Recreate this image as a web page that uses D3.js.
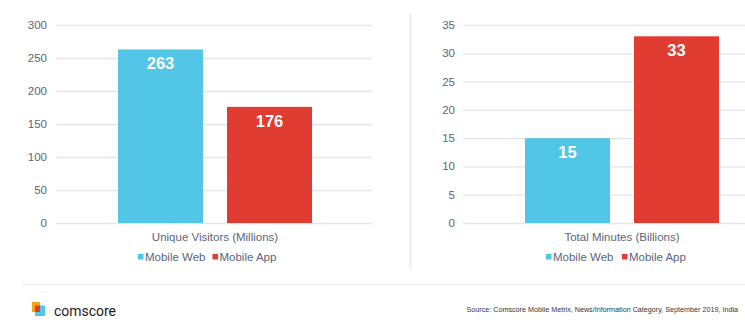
<!DOCTYPE html>
<html><head><meta charset="utf-8">
<script src="https://cdn.jsdelivr.net/npm/d3@7"></script>
<style>body{margin:0;background:#fff;}svg{display:block;font-family:"Liberation Sans",Arial,sans-serif;}</style>
</head><body>
<svg id="c" width="745" height="327"></svg>
<script>
const series = ["Mobile Web", "Mobile App"];
const colors = ["#52C6E6", "#E03C31"];
const visitors = [263, 176];
const minutes = [15, 33];
const visitorTicks = [0, 50, 100, 150, 200, 250, 300];
const minuteTicks = [0, 5, 10, 15, 20, 25, 30, 35];
const categories = ["Unique Visitors (Millions)", "Total Minutes (Billions)"];
const sourceText = "Source: Comscore Mobile Metrix, News/Information Category, September 2019, India";

const svg = d3.select("#c");
const y0 = 223, y1 = 25;

function panel(opts) {
  const g = svg.append("g");
  const y = d3.scaleLinear().domain([0, d3.max(opts.ticks)]).range([y0, y1]);
  g.selectAll("line.grid").data(opts.ticks).join("line")
    .attr("x1", opts.gx0).attr("x2", opts.gx1)
    .attr("y1", d => y(d) + 0.5).attr("y2", d => y(d) + 0.5)
    .attr("stroke", "#e4e4ec").attr("stroke-width", 1.3);
  g.selectAll("text.tick").data(opts.ticks).join("text")
    .attr("x", opts.tickX).attr("y", d => y(d) + 4)
    .attr("text-anchor", "end").attr("font-size", 11.5).attr("fill", "#5b6479")
    .text(d => d);
  const x = d3.scaleBand().domain(series)
    .range([opts.center - 97, opts.center + 97]).paddingInner(24 / 109).paddingOuter(0);
  g.selectAll("rect.bar").data(opts.values).join("rect")
    .attr("x", (d, i) => x(series[i])).attr("width", x.bandwidth())
    .attr("y", d => y(d)).attr("height", d => y(0) - y(d))
    .attr("fill", (d, i) => colors[i]);
  g.selectAll("text.val").data(opts.values).join("text")
    .attr("x", (d, i) => x(series[i]) + x.bandwidth() / 2)
    .attr("y", d => y(d) + 20)
    .attr("text-anchor", "middle").attr("font-size", 16.5).attr("font-weight", "bold")
    .attr("fill", "#fff").text(d => d);
  g.append("text").attr("x", opts.center).attr("y", 240.5)
    .attr("text-anchor", "middle").attr("font-size", 11.5).attr("fill", "#5b6479")
    .text(opts.category);
  const lg = g.append("g");
  series.forEach((s, i) => {
    const lx = opts.legendX[i];
    lg.append("rect").attr("x", lx).attr("y", 254).attr("width", 5.5).attr("height", 5.5).attr("fill", colors[i]);
    lg.append("text").attr("x", lx + 7).attr("y", 261).attr("font-size", 11.5).attr("fill", "#5b6479").text(s);
  });
}

panel({ticks: visitorTicks, values: visitors, gx0: 56, gx1: 372, tickX: 47, center: 215,
  category: categories[0], legendX: [138, 212.5]});
panel({ticks: minuteTicks, values: minutes, gx0: 463, gx1: 745, tickX: 455, center: 622,
  category: categories[1], legendX: [546, 622]});

svg.append("line").attr("x1", 410.5).attr("x2", 410.5).attr("y1", 14).attr("y2", 270)
  .attr("stroke", "#ececec").attr("stroke-width", 2);
svg.append("line").attr("x1", 22).attr("x2", 745).attr("y1", 284.5).attr("y2", 284.5)
  .attr("stroke", "#ececec").attr("stroke-width", 1.2);
const logo = svg.append("g");
logo.append("rect").attr("x", 32).attr("y", 302).attr("width", 8).attr("height", 10).attr("fill", "#F7A21B");
logo.append("rect").attr("x", 35).attr("y", 305.5).attr("width", 10).attr("height", 10.5).attr("fill", "#52C6E6");
logo.append("rect").attr("x", 35).attr("y", 305.5).attr("width", 5).attr("height", 6.5).attr("fill", "#E03C31");
svg.append("text").attr("x", 54).attr("y", 315.5).attr("font-size", 15.5)
  .attr("font-family", "Roboto, 'Liberation Sans', sans-serif").attr("fill", "#1a1a1a")
  .attr("textLength", 62).attr("lengthAdjust", "spacingAndGlyphs").text("comscore");
svg.append("text").attr("x", 738).attr("y", 312).attr("font-size", 7.2)
  .attr("text-anchor", "end")
  .attr("font-family", "'Liberation Sans Narrow', 'Liberation Sans', Arial, sans-serif")
  .attr("fill", "#333").text(sourceText);
</script>
</body></html>
